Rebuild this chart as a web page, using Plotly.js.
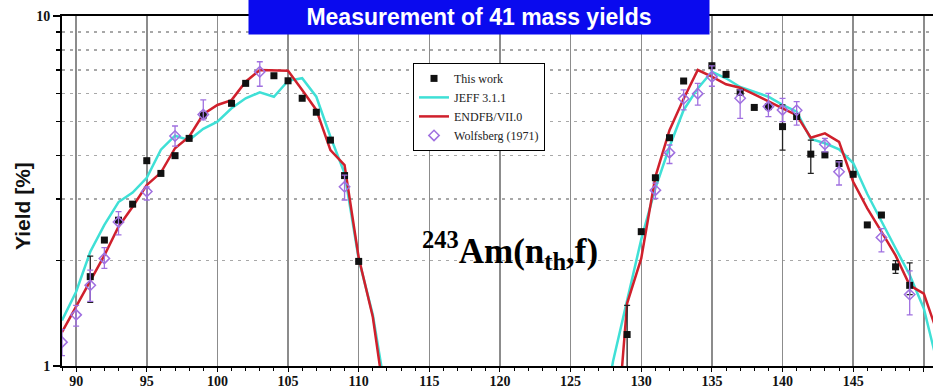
<!DOCTYPE html>
<html>
<head>
<meta charset="utf-8">
<script src="https://cdn.plot.ly/plotly-3.0.1.min.js"></script>
<style>html,body{margin:0;padding:0;background:#fff;}#chart{width:933px;height:391px;}</style>
</head>
<body>
<div id="chart"></div>
<script>
// Mass numbers for the evaluated-library curves
var massLight = [89,90,91,92,93,94,95,96,97,98,99,100,101,102,103,104,105,106,107,108,109,110,111,112];
var massHeavy = [127,128,129,130,131,132,133,134,135,136,137,138,139,140,141,142,143,144,145,146,147,148,149,150,151];

// JEFF 3.1.1
var jeffLight = [1.35,1.63,2.12,2.53,2.94,3.13,3.45,4.15,4.55,4.42,4.76,4.99,5.45,5.82,6.05,5.88,6.53,6.64,5.88,4.52,3.55,2.02,1.40,0.80];
var jeffHeavy = [0.60,1.03,1.54,2.30,3.22,4.23,5.39,6.21,6.93,6.64,6.27,6.08,5.88,5.57,5.33,4.45,4.33,4.16,3.80,3.10,2.58,2.17,1.82,1.46,1.00];

// ENDF/B-VII.0
var endfLight = [1.25,1.48,1.76,2.07,2.50,2.85,3.29,3.57,4.19,4.52,5.24,5.57,5.75,6.49,7.01,6.98,6.98,6.15,5.39,4.14,3.75,2.04,1.38,0.72];
var endfHeavy = [null,0.47,1.51,2.03,3.47,4.72,5.80,7.01,6.71,6.38,6.24,5.97,5.69,5.45,5.21,4.49,4.62,4.37,3.36,2.82,2.42,2.07,1.70,1.61,1.23];

// This work
var twMass = [91,92,93,94,95,96,97,98,99,101,102,104,105,106,107,108,109,110,129,130,131,132,133,135,136,137,138,139,140,141,142,143,144,145,146,147,148,149];
var twYield = [1.80,2.29,2.61,2.90,3.86,3.55,3.99,4.47,5.21,5.63,6.42,6.75,6.53,5.82,5.31,4.42,3.50,1.99,1.23,2.42,3.45,4.49,6.52,7.21,6.81,6.05,5.48,5.51,4.83,5.16,4.03,4.01,3.79,3.53,2.53,2.70,1.92,1.70];
var twErrPlus = [0.26,0,0,0,0,0,0,0,0,0,0,0,0,0,0,0,0,0,0.26,0,0,0,0,0,0,0,0,0,0.74,0,0.39,0,0,0,0,0,0.08,0.27];
var twErrMinus = [0.28,0,0,0,0,0,0,0,0,0,0,0,0,0,0,0,0,0,0.5,0,0,0,0,0,0,0,0,0,0.69,0,0.48,0,0,0,0,0,0.08,0.10];

// Wolfsberg (1971)
var wfMass = [89,90,91,92,93,95,97,99,103,109,131,132,133,134,135,137,139,140,141,143,144,147,149];
var wfYield = [1.17,1.40,1.70,2.03,2.58,3.15,4.54,5.23,6.93,3.25,3.18,4.07,5.80,6.00,6.70,5.82,5.51,5.39,5.38,4.30,3.59,2.33,1.60];
var wfErrPlus = [0.10,0.09,0.18,0.15,0.18,0.10,0.31,0.53,0.47,0.26,0.15,0.21,0.35,0.42,0.50,0.33,0.50,0.43,0.31,0.17,0.24,0.14,0.27];
var wfErrMinus = [0.10,0.10,0.17,0.13,0.21,0.17,0.29,0.18,0.63,0.27,0.17,0.28,0.41,0.44,0.40,0.72,0.35,0.40,0.50,0.21,0.30,0.21,0.20];

// Axis ticks
var xTicks = [90,95,100,105,110,115,120,125,130,135,140,145,150];
var yTickVals = [1,10];
var yMinorVals = [2,3,4,5,6,7,8,9];

var curveX = massLight.concat([null], massHeavy);

var traces = [
  {name:'JEFF 3.1.1', x: curveX, y: jeffLight.concat([null], jeffHeavy), type:'scatter', mode:'lines',
   line:{color:'#3fe0d6', width:2.5}, connectgaps:false, legendrank:2},
  {name:'ENDFB/VII.0', x: curveX, y: endfLight.concat([null], endfHeavy), type:'scatter', mode:'lines',
   line:{color:'#d0202c', width:2.5}, connectgaps:false, legendrank:3},
  {name:'This work', x: twMass, y: twYield, type:'scatter', mode:'markers',
   marker:{symbol:'square', size:7, color:'#111'},
   error_y:{type:'data', symmetric:false, array: twErrPlus, arrayminus: twErrMinus, color:'#222', thickness:1.3, width:3},
   legendrank:1},
  {name:'Wolfsberg (1971)', x: wfMass, y: wfYield, type:'scatter', mode:'markers',
   marker:{symbol:'diamond-open', size:8, color:'#a070e0', line:{width:1.5, color:'#a070e0'}},
   error_y:{type:'data', symmetric:false, array: wfErrPlus, arrayminus: wfErrMinus, color:'#a070e0', thickness:1.3, width:3},
   legendrank:4}
];

var layout = {
  width:933, height:391,
  margin:{l:62, r:0, t:16, b:25},
  paper_bgcolor:'#fff', plot_bgcolor:'#fff',
  showlegend:true,
  xaxis:{
    range:[89, 150.65], tickvals: xTicks, ticktext: xTicks.map(String),
    showgrid:true, gridcolor:'#8c8c8c', gridwidth:1.5,
    showline:true, linecolor:'#000', linewidth:2, mirror:true,
    ticks:'outside', ticklen:4, tickcolor:'#000', tickwidth:1,
    ticklabelstandoff:-3,
    minor:{dtick:1, tick0:89, ticks:'outside', ticklen:3, tickcolor:'#000', showgrid:false},
    tickfont:{family:'Liberation Serif', size:14, color:'#111', weight:'bold'},
    zeroline:false, fixedrange:true
  },
  yaxis:{
    type:'log', range:[0, 1], tickmode:'array', tickvals: yTickVals, ticktext: yTickVals.map(String),
    showgrid:false,
    showline:true, linecolor:'#000', linewidth:2,
    ticks:'outside', ticklen:7, tickcolor:'#000', tickwidth:1.5,
    minor:{tickmode:'array', tickvals: yMinorVals, ticks:'outside', ticklen:4, tickcolor:'#000', tickwidth:1.5,
           showgrid:true, gridcolor:'#a8a8a8', gridwidth:1.5, griddash:'3px,5px'},
    tickfont:{family:'Liberation Serif', size:14, color:'#111', weight:'bold'},
    zeroline:false, fixedrange:true
  },
  legend:{
    x:0.403, y:0.866, xanchor:'left', yanchor:'top',
    bgcolor:'#fff', bordercolor:'#000', borderwidth:1,
    font:{family:'Liberation Serif', size:12, color:'#222'},
    tracegroupgap:0, itemwidth:30
  },
  annotations:[
    {text:'Measurement of 41 mass yields', xref:'paper', yref:'paper', x:0.4788, y:0.997,
     xanchor:'center', yanchor:'middle', showarrow:false, width:460, height:34,
     bgcolor:'#0a0aee', borderpad:0,
     font:{family:'Liberation Sans', size:23, color:'#fff', weight:'bold'}},
    {text:'Yield [%]', xref:'paper', yref:'paper', x:-0.0459, y:0.457, textangle:-90,
     xanchor:'center', yanchor:'middle', showarrow:false,
     font:{family:'Liberation Sans', size:21, color:'#111', weight:'bold'}},
    {text:'<sup>243</sup>Am(n<sub>th</sub>,f)', xref:'paper', yref:'paper', x:0.514, y:0.331,
     xanchor:'center', yanchor:'middle', showarrow:false,
     font:{family:'Liberation Serif', size:35, color:'#000', weight:'bold'}}
  ]
};

Plotly.newPlot('chart', traces, layout, {displayModeBar:false, staticPlot:true});
</script>
</body>
</html>
